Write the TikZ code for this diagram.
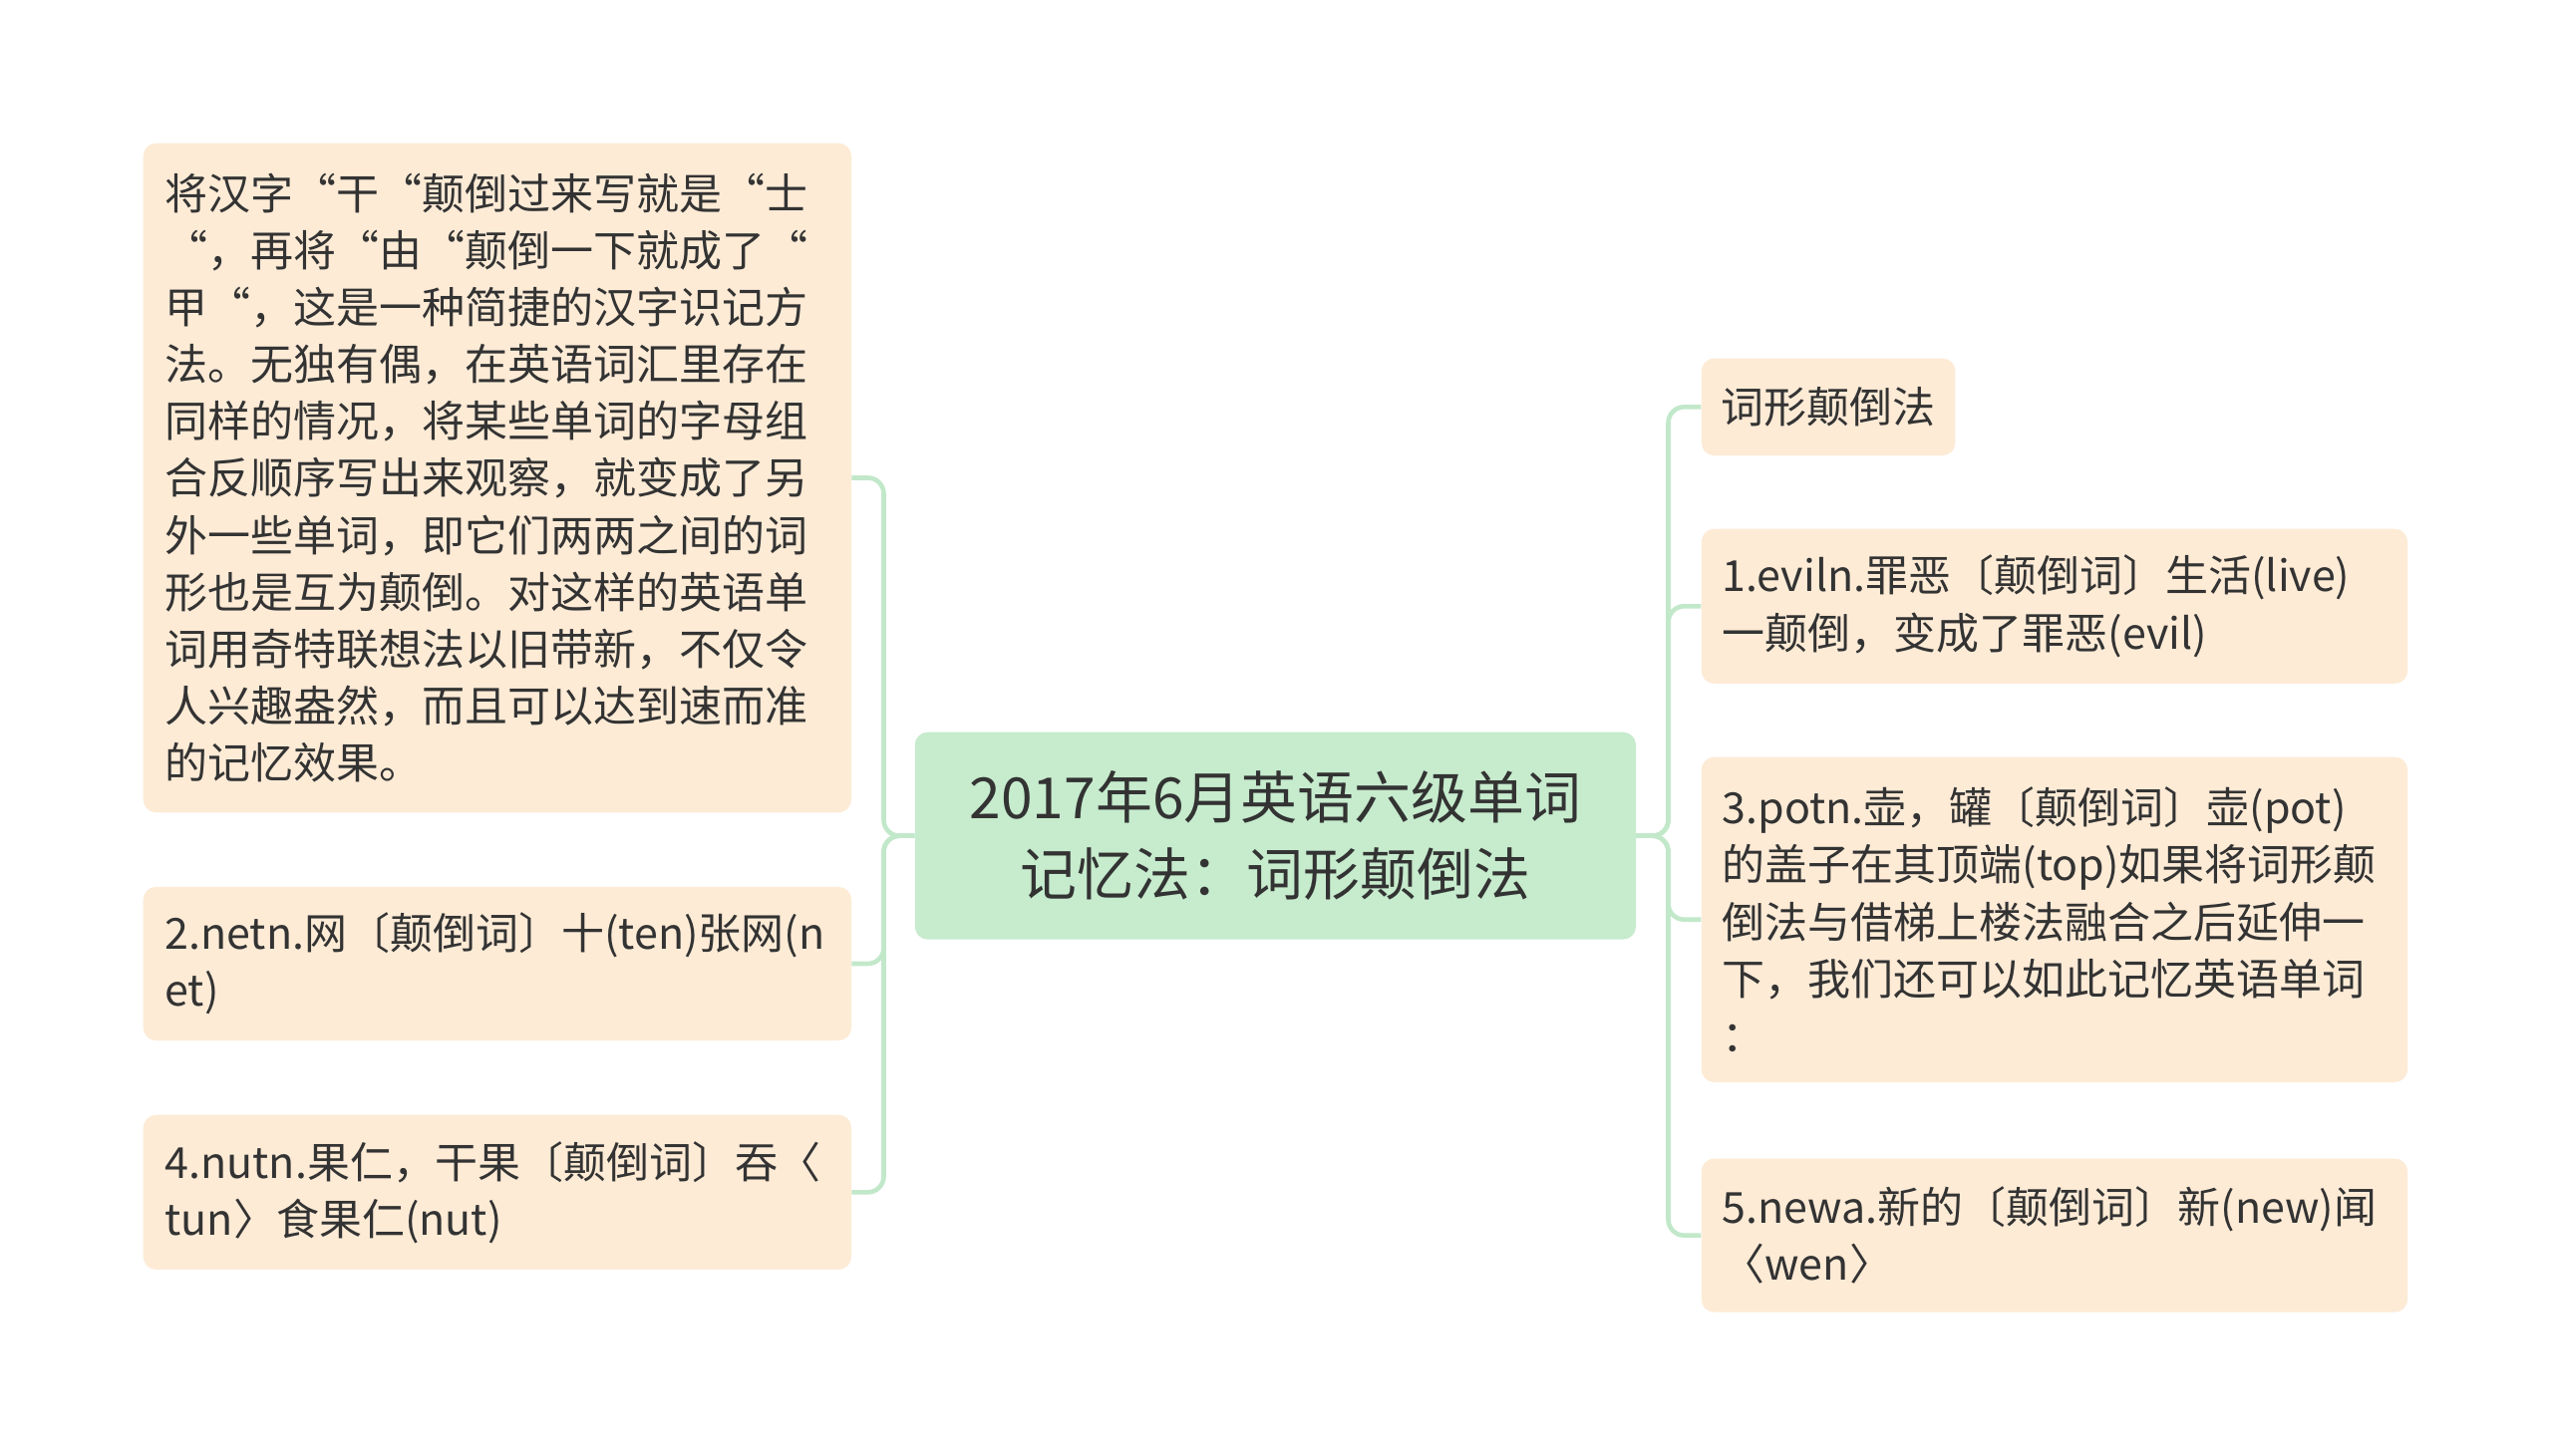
\documentclass[tikz,border=0pt]{standalone}
\usepackage{fontspec}
\setmainfont{Noto Sans CJK SC}
\definecolor{leaffill}{HTML}{FDEBD6}
\definecolor{rootfill}{HTML}{C6EBCD}
\definecolor{linkcol}{HTML}{C2E8CA}
\definecolor{ink}{HTML}{333333}

\begin{document}
\begin{tikzpicture}[
      x=0.5pt, y=-0.5pt,
      leaf/.style={fill=leaffill, rounded corners=6.5pt, anchor=north west,
        inner xsep=11pt, inner ysep=0pt, text width=335pt, align=left,
        text=ink, font={\fontsize{21.6pt}{28.7pt}\selectfont}},
      root/.style={fill=rootfill, rounded corners=6.5pt, anchor=north west,
        inner sep=0pt, minimum width=363.5pt, minimum height=104.5pt,
        align=center, text=ink, font={\fontsize{28.6pt}{38.8pt}\selectfont}},
      link/.style={draw=linkcol, line width=2.3pt, rounded corners=8pt},
    ]
      \fill[white] (0,0) rectangle (2573,1468);
      \useasboundingbox (0,0) rectangle (2573,1468);
      \node[root] (0) at (922, 738) {2017年6月英语六级单词\\记忆法：词形颠倒法};
      % left side
      \node[leaf, minimum height=337.5pt] (1) at (144, 144) {将汉字“干“颠倒过来写就是“士\\“，再将“由“颠倒一下就成了“\\甲“，这是一种简捷的汉字识记方\\法。无独有偶，在英语词汇里存在\\同样的情况，将某些单词的字母组\\合反顺序写出来观察，就变成了另\\外一些单词，即它们两两之间的词\\形也是互为颠倒。对这样的英语单\\词用奇特联想法以旧带新，不仅令\\人兴趣盎然，而且可以达到速而准\\的记忆效果。};
      \node[leaf, minimum height=77.5pt] (2) at (144, 894) {2.netn.网〔颠倒词〕十(ten)张网(n\\et)};
      \node[leaf, minimum height=78pt] (3) at (144, 1124) {4.nutn.果仁，干果〔颠倒词〕吞〈\\tun〉食果仁(nut)};
      % right side
      \node[leaf, inner xsep=10pt, text width=108pt, minimum height=49pt] (4) at (1715, 361) {词形颠倒法};
      \node[leaf, inner xsep=10.5pt, minimum height=78pt] (5) at (1715, 533) {1.eviln.罪恶〔颠倒词〕生活(live)\\一颠倒，变成了罪恶(evil)};
      \node[leaf, inner xsep=10.5pt, minimum height=164pt] (6) at (1715, 763) {3.potn.壶，罐〔颠倒词〕壶(pot)\\的盖子在其顶端(top)如果将词形颠\\倒法与借梯上楼法融合之后延伸一\\下，我们还可以如此记忆英语单词\\：};
      \node[leaf, inner xsep=10.5pt, minimum height=77.5pt] (7) at (1715, 1168) {5.newa.新的〔颠倒词〕新(new)闻\\〈wen〉};
      \coordinate (lb) at (891, 843);
      \coordinate (rb) at (1682, 843);
      \draw[link] (0.west) -- (lb) |- (1.east);
      \draw[link] (0.west) -- (lb) |- (2.east);
      \draw[link] (0.west) -- (lb) |- (3.east);
      \draw[link] (0.east) -- (rb) |- (4.west);
      \draw[link] (0.east) -- (rb) |- (5.west);
      \draw[link] (0.east) -- (rb) |- (6.west);
      \draw[link] (0.east) -- (rb) |- (7.west);
    \end{tikzpicture}
\end{document}
